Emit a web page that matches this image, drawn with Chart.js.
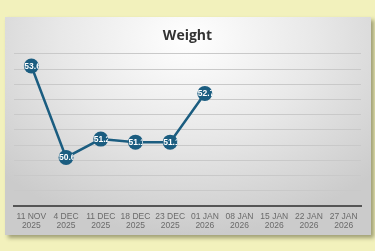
<!DOCTYPE html>
<html>
<head>
<meta charset="utf-8">
<script src="https://cdn.jsdelivr.net/npm/chart.js@4.4.1/dist/chart.umd.min.js"></script>
<style>
  html, body { margin: 0; padding: 0; }
  body { width: 375px; height: 251px; background: #f2f1bc; position: relative; overflow: hidden; }
  #card {
    position: absolute; left: 5px; top: 17px; width: 366px; height: 218px;
    background: radial-gradient(ellipse 70% 90% at 50% 10%, #ffffff 0%, #e8e8e8 50%, #cbcbcb 100%);
    box-shadow: 3px 3px 4px rgba(60,60,30,0.45);
  }
  #wrap { position: absolute; left: 0; top: 0; width: 375px; height: 251px; }
</style>
</head>
<body>
<div id="card"></div>
<div id="wrap"><canvas id="Graph" width="375" height="251"></canvas></div>
<script>
// chart data
var dateLabels = [
  ['11 NOV', '2025'], ['4 DEC', '2025'], ['11 DEC', '2025'], ['18 DEC', '2025'], ['23 DEC', '2025'],
  ['01 JAN', '2026'], ['08 JAN', '2026'], ['15 JAN', '2026'], ['22 JAN', '2026'], ['27 JAN', '2026']
];
var weightValues = [53.6, 50.6, 51.2, 51.1, 51.1, 52.7, null, null, null, null];
var weightMin = 49;
var weightMax = 54;
var weightStep = 0.5;

var markColour = '#1b5d80';

// white value text inside each dot, cut off at the dot's edge
var dotLabels = {
  id: 'dotLabels',
  afterDatasetsDraw: function(chart) {
    var ctx = chart.ctx;
    var meta = chart.getDatasetMeta(0);
    meta.data.forEach(function(pt, i) {
      var v = weightValues[i];
      if (v === null) return;
      ctx.save();
      ctx.beginPath();
      ctx.arc(pt.x, pt.y, 7.5, 0, Math.PI * 2);
      ctx.clip();
      ctx.fillStyle = '#ffffff';
      ctx.font = 'bold 8.5px "Liberation Sans", Arial, sans-serif';
      ctx.textAlign = 'left';
      ctx.textBaseline = 'middle';
      ctx.fillText(v.toFixed(1), pt.x - 7, pt.y + 0.5);
      ctx.restore();
    });
  }
};

var chart = new Chart(document.getElementById('Graph').getContext('2d'), {
  type: 'line',
  data: {
    labels: dateLabels,
    datasets: [{
      label: 'Weight',
      data: weightValues,
      borderColor: markColour,
      backgroundColor: markColour,
      borderWidth: 2.5,
      pointRadius: 7.5,
      pointBorderWidth: 0,
      pointBackgroundColor: markColour,
      tension: 0
    }]
  },
  options: {
    responsive: false,
    animation: false,
    layout: { padding: { left: 14, right: 14, top: 28, bottom: 15 } },
    plugins: {
      legend: { display: false },
      tooltip: { enabled: false },
      title: {
        display: true,
        text: 'Weight',
        color: '#333333',
        font: { family: '"Open Sans", sans-serif', size: 14, weight: 'bold' },
        padding: { top: 0, bottom: 9 }
      }
    },
    scales: {
      x: {
        offset: true,
        grid: { display: false, drawTicks: false },
        border: { display: true, color: '#555555', width: 2 },
        ticks: {
          color: '#6a6a6a',
          font: { family: '"Liberation Sans", Arial, sans-serif', size: 8.5, lineHeight: 1.05 },
          padding: 6,
          maxRotation: 0,
          autoSkip: false
        }
      },
      y: {
        min: weightMin,
        max: weightMax,
        ticks: { display: false, stepSize: weightStep },
        grid: { color: '#c9c9c9', drawTicks: false },
        border: { display: false }
      }
    }
  },
  plugins: [dotLabels]
});
</script>
</body>
</html>
